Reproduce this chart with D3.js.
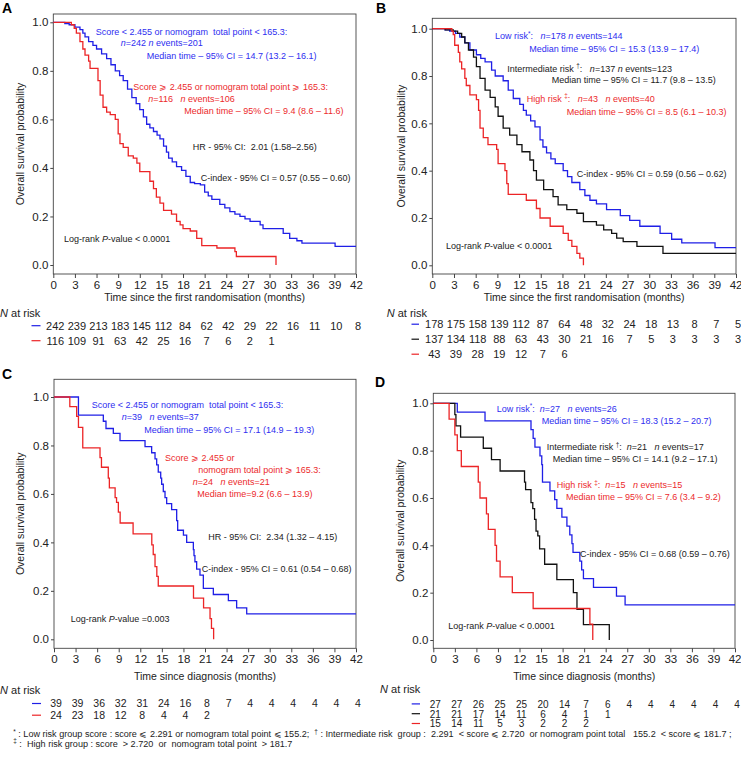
<!DOCTYPE html>
<meta charset="utf-8">
<head>
    <title>Overall survival by score / nomogram risk group</title>
    <script type="text/javascript" src="https://cdn.jsdelivr.net/npm/d3@7/dist/d3.min.js"></script>
    <style>
        body { margin: 0; background: #fff; }
        svg text { font-family: "Liberation Sans", Arial, sans-serif; white-space: pre; }
    </style>
</head>
<body>
<script>

// shared tick labels
var monthTicks = [0, 3, 6, 9, 12, 15, 18, 21, 24, 27, 30, 33, 36, 39, 42];
var survTicks = [0.0, 0.2, 0.4, 0.6, 0.8, 1.0];

// Panel A - KM steps [month, survival]
var kmA_low = [[0,1],[1.6,0.995],[2.2,0.99],[3.0,0.98],[3.7,0.97],[4.1,0.955],[4.4,0.94],[4.9,0.92],[5.5,0.905],[6.0,0.89],
    [6.7,0.87],[7.4,0.85],[8.0,0.825],[8.6,0.80],[9.2,0.78],[9.7,0.76],[10.3,0.725],[10.9,0.69],[11.5,0.665],[12.0,0.64],
    [12.5,0.61],[12.95,0.58],[13.4,0.565],[13.9,0.55],[14.4,0.535],[14.8,0.52],[15.3,0.49],[15.7,0.465],[16.0,0.44],[16.5,0.425],
    [17.1,0.405],[17.8,0.39],[18.4,0.365],[19.0,0.34],[19.6,0.335],[20.4,0.33],[21.0,0.30],[21.5,0.285],[22.0,0.27],[23.1,0.25],
    [23.8,0.235],[24.5,0.22],[25.2,0.21],[25.9,0.20],[26.6,0.19],[27.3,0.18],[28.7,0.165],[29.1,0.15],[31.9,0.13],[32.8,0.11],
    [33.8,0.10],[34.5,0.09],[39.1,0.077]];
var kmA_high = [[0,1],[2.5,0.99],[2.9,0.975],[3.2,0.955],[3.7,0.92],[4.1,0.89],[4.4,0.865],[4.9,0.84],[5.1,0.81],[6.2,0.76],
    [6.5,0.70],[6.9,0.65],[7.4,0.63],[7.9,0.62],[8.6,0.60],[9.0,0.54],[9.25,0.50],[9.7,0.485],[10.4,0.45],[11.1,0.44],
    [11.6,0.42],[12.0,0.385],[13.4,0.345],[13.9,0.315],[14.3,0.28],[14.8,0.255],[15.3,0.225],[16.4,0.21],[17.1,0.18],[17.6,0.165],
    [18.0,0.15],[19.0,0.14],[19.9,0.11],[20.6,0.08],[22.7,0.07],[25.2,0.055],[25.4,0.035],[30.9,0]];
var riskA_low = [242, 239, 213, 183, 145, 112, 84, 62, 42, 29, 22, 16, 11, 10, 8];
var riskA_high = [116, 109, 91, 63, 42, 25, 16, 7, 6, 2, 1];

// Panel B
var kmB_low = [[0,1],[1.75,0.995],[2.4,0.99],[3.2,0.98],[3.8,0.965],[4.5,0.94],[5.2,0.91],[6.1,0.89],[6.7,0.875],[7.3,0.86],
    [8.2,0.825],[8.7,0.80],[9.8,0.78],[10.5,0.74],[11.2,0.705],[12.1,0.68],[12.6,0.655],[13.0,0.635],[13.6,0.61],[14.2,0.585],
    [14.9,0.53],[15.3,0.50],[15.8,0.475],[16.4,0.45],[17.0,0.43],[18.1,0.40],[18.7,0.375],[19.3,0.35],[20.4,0.32],[21.1,0.295],
    [21.8,0.275],[22.7,0.26],[24.1,0.235],[26.0,0.21],[27.3,0.19],[28.7,0.165],[31.5,0.135],[33.1,0.11],[34.5,0.095],[39.1,0.075]];
var kmB_int = [[0,1],[1.8,0.995],[2.9,0.99],[3.5,0.98],[4.06,0.965],[4.5,0.94],[5.0,0.91],[5.7,0.88],[6.1,0.84],[6.6,0.79],
    [7.3,0.74],[8.0,0.71],[8.7,0.67],[9.1,0.63],[9.8,0.58],[10.7,0.55],[11.7,0.51],[12.4,0.48],[13.5,0.445],[14.0,0.40],
    [14.4,0.36],[15.4,0.32],[16.7,0.29],[17.4,0.255],[18.6,0.235],[20.0,0.22],[20.9,0.185],[22.7,0.17],[23.7,0.15],[24.8,0.135],
    [25.5,0.115],[26.4,0.10],[28.3,0.08],[31.9,0.05]];
var kmB_high = [[0,1],[2.7,0.99],[2.9,0.975],[3.1,0.93],[3.6,0.90],[3.8,0.86],[4.06,0.83],[4.5,0.79],[4.7,0.76],[5.2,0.72],
    [6.1,0.70],[6.4,0.655],[6.6,0.58],[7.05,0.54],[7.7,0.51],[8.9,0.49],[9.1,0.43],[10.05,0.40],[10.3,0.345],[10.5,0.30],
    [13.0,0.275],[14.4,0.24],[14.9,0.20],[16.3,0.165],[18.1,0.135],[18.8,0.105],[19.3,0.08],[20.0,0.05],[20.4,0.03],[20.9,0]];
var riskB_low = [178, 175, 158, 139, 112, 87, 64, 48, 32, 24, 18, 13, 8, 7, 5];
var riskB_int = [137, 134, 118, 88, 63, 43, 30, 21, 16, 7, 5, 3, 3, 3, 3];
var riskB_high = [43, 39, 28, 19, 12, 7, 6];

// Panel C
var kmC_low = [[0,1],[3.4,0.925],[6.86,0.90],[7.23,0.87],[8.25,0.85],[9.18,0.82],[12.66,0.795],[13.58,0.77],[14.05,0.745],
    [14.28,0.72],[14.5,0.69],[14.84,0.665],[14.97,0.64],[15.2,0.61],[15.44,0.585],[15.67,0.56],[16.36,0.535],[17.06,0.49],
    [17.2,0.45],[18.0,0.43],[18.45,0.40],[19.38,0.37],[19.47,0.345],[19.6,0.32],[19.84,0.29],[20.3,0.265],[20.77,0.21],
    [22.16,0.185],[24.25,0.16],[25.4,0.13],[26.8,0.105]];
var kmC_high = [[0,1],[2.2,0.96],[3.15,0.92],[3.4,0.875],[4.0,0.79],[6.4,0.75],[6.6,0.71],[7.55,0.665],[7.7,0.625],[8.5,0.585],
    [8.7,0.565],[8.95,0.525],[9.2,0.48],[11.0,0.435],[13.6,0.39],[13.8,0.35],[14.05,0.30],[14.3,0.26],[14.5,0.22],[19.4,0.17],
    [20.8,0.13],[21.7,0.085],[21.9,0.045],[22.2,0]];
var riskC_low = [39, 39, 36, 32, 31, 24, 16, 8, 7, 4, 4, 4, 4, 4, 4];
var riskC_high = [24, 23, 18, 12, 8, 4, 4, 2];

// Panel D
var kmD_low = [[0,1],[3.34,0.963],[7.2,0.926],[13.6,0.889],[13.9,0.852],[14.15,0.815],[14.85,0.778],[15.1,0.741],[15.2,0.667],
    [16.24,0.63],[16.9,0.593],[17.2,0.556],[17.9,0.519],[18.6,0.481],[19.0,0.444],[19.3,0.407],[19.45,0.37],[20.4,0.333],
    [20.65,0.296],[20.9,0.259],[22.3,0.222],[25.5,0.185],[26.7,0.148]];
var kmD_int = [[0,1],[3.0,0.952],[3.15,0.905],[3.8,0.857],[6.96,0.81],[8.1,0.762],[9.3,0.714],[12.7,0.667],[12.85,0.635],
    [13.6,0.58],[13.85,0.555],[14.1,0.51],[14.3,0.46],[14.55,0.44],[14.8,0.385],[15.5,0.32],[17.2,0.255],[19.5,0.20],
    [20.0,0.13],[20.9,0.065],[24.5,0]];
var kmD_high = [[0,1],[2.2,0.933],[3.0,0.867],[3.34,0.80],[3.9,0.733],[6.26,0.667],[6.5,0.60],[7.4,0.533],[7.66,0.467],
    [8.6,0.40],[8.8,0.333],[9.3,0.267],[11.0,0.20],[13.9,0.133],[21.8,0.067],[22.2,0]];
var riskD_low = [27, 27, 26, 25, 25, 20, 14, 7, 6, 4, 4, 4, 4, 4, 4];
var riskD_int = [21, 21, 17, 14, 11, 6, 4, 1, 1];
var riskD_high = [15, 14, 11, 5, 3, 2, 2, 2];

var colors = {blue: "#1f1fe6", black: "#111111", red: "#ec2426"};
var textColors = {blue: "#2e2ef0", black: "#222222", red: "#ec2a2c"};

var width = 741, height = 757;

var svg = d3.select("body")
    .append("svg")
    .attr("width", width)
    .attr("height", height);

// text with _italic_ and ^superscript^ parts
function richText(sel, str) {
    var shift = 0;
    str.split(/(_[^_]+_|\^[^\^]+\^)/).forEach(function(part) {
        if (!part) return;
        var t = sel.append("tspan");
        if (part[0] == "_") {
            t.style("font-style", "italic").text(part.slice(1, -1));
            if (shift) { t.attr("dy", -shift); shift = 0; }
        } else if (part[0] == "^") {
            t.attr("dy", -3.5 - shift).style("font-size", "0.7em").text(part.slice(1, -1));
            shift = -3.5;
        } else {
            t.text(part);
            if (shift) { t.attr("dy", -shift); shift = 0; }
        }
    });
}

var panels = [
    {label: "A", lx: 2, ly: 13, left: 53.3, right: 356, top: 14, bottom: 274, y1: 22.3, y0: 265,
     xTitle: "Time since the first randomisation (months)", xTitleY: 301, yTitleX: 24,
     curves: [[kmA_low, "blue"], [kmA_high, "red"]],
     risk: [[riskA_low, "blue"], [riskA_high, "red"]], riskHead: [0, 316.5], riskY: [329.5, 344.5], riskFont: 11, dash: [31.5, 40.5],
     notes: [
        ["blue", 95.7, 35, "Score < 2.455 or nomogram  total point < 165.3:"],
        ["blue", 120.7, 45.7, "_n_=242 _n_ events=201"],
        ["blue", 146.7, 59, "Median time – 95% CI = 14.7 (13.2 – 16.1)"],
        ["red", 133.3, 90, "Score ⩾ 2.455 or nomogram total point ⩾ 165.3:"],
        ["red", 148.3, 101.5, "_n_=116   _n_ events=106"],
        ["red", 184.3, 113.5, "Median time – 95% CI = 9.4 (8.6 – 11.6)"],
        ["black", 192.7, 150, "HR - 95% CI:  2.01 (1.58–2.56)"],
        ["black", 200.7, 180.7, "C-index - 95% CI = 0.57 (0.55 – 0.60)"],
        ["black", 64, 242.3, "Log-rank _P_-value < 0.0001"]
     ]},
    {label: "B", lx: 376, ly: 13, left: 432.3, right: 736, top: 18.3, bottom: 274, y1: 28.7, y0: 265.3,
     xTitle: "Time since the first randomisation (months)", xTitleY: 301, yTitleX: 405,
     curves: [[kmB_low, "blue"], [kmB_int, "black"], [kmB_high, "red"]],
     risk: [[riskB_low, "blue"], [riskB_int, "black"], [riskB_high, "red"]], riskHead: [386.7, 316.5], riskY: [328, 343, 358], riskFont: 11, dash: [411.5, 419],
     notes: [
        ["blue", 495, 39.3, "Low risk^*^:   _n_=178 _n_ events=144"],
        ["blue", 529.3, 52.3, "Median time – 95% CI = 15.3 (13.9 – 17.4)"],
        ["black", 507.3, 71.7, "Intermediate risk ^†^:   _n_=137 _n_ events=123"],
        ["black", 551.7, 83.3, "Median time – 95% CI = 11.7 (9.8 – 13.5)"],
        ["red", 526.7, 101.7, "High risk ^‡^:   _n_=43   _n_ events=40"],
        ["red", 566.7, 115, "Median time – 95% CI = 8.5 (6.1 – 10.3)"],
        ["black", 576.7, 176.7, "C-index - 95% CI = 0.59 (0.56 – 0.62)"],
        ["black", 446, 249.3, "Log-rank _P_-value < 0.0001"]
     ]},
    {label: "C", lx: 2, ly: 378.5, left: 54, right: 356, top: 379.3, bottom: 648.3, y1: 397, y0: 639.3,
     xTitle: "Time since diagnosis (months)", xTitleY: 680, yTitleX: 24,
     curves: [[kmC_low, "blue"], [kmC_high, "red"]],
     risk: [[riskC_low, "blue"], [riskC_high, "red"]], riskHead: [0, 693.5], riskY: [707.3, 719], riskFont: 10.5, dash: [32, 41],
     notes: [
        ["blue", 91.7, 408.3, "Score < 2.455 or nomogram  total point < 165.3:"],
        ["blue", 121.7, 420, "_n_=39   _n_ events=37"],
        ["blue", 144.3, 432.7, "Median time – 95% CI = 17.1 (14.9 – 19.3)"],
        ["red", 165, 461, "Score ⩾ 2.455 or"],
        ["red", 198.3, 473.3, "nomogram total point ⩾ 165.3:"],
        ["red", 192.7, 485, "_n_=24   _n_ events=21"],
        ["red", 197.3, 497.3, "Median time=9.2 (6.6 – 13.9)"],
        ["black", 208.3, 540, "HR - 95% CI:  2.34 (1.32 – 4.15)"],
        ["black", 201.7, 571.7, "C-index - 95% CI = 0.61 (0.54 – 0.68)"],
        ["black", 70.7, 621.7, "Log-rank _P_-value =0.003"]
     ]},
    {label: "D", lx: 375, ly: 386.5, left: 433.3, right: 735, top: 393.3, bottom: 648.3, y1: 403.3, y0: 640,
     xTitle: "Time since diagnosis (months)", xTitleY: 680, yTitleX: 404,
     curves: [[kmD_low, "blue"], [kmD_int, "black"], [kmD_high, "red"]],
     risk: [[riskD_low, "blue"], [riskD_int, "black"], [riskD_high, "red"]], riskHead: [380, 693.3], riskY: [707.7, 717.5, 727.3], riskFont: 10, dash: [411.7, 420],
     notes: [
        ["blue", 496.7, 411.7, "Low risk^*^:  _n_=27   _n_ events=26"],
        ["blue", 541.7, 424, "Median time – 95% CI = 18.3 (15.2 – 20.7)"],
        ["black", 546.7, 450, "Intermediate risk ^†^:  _n_=21   _n_ events=17"],
        ["black", 552.7, 461.7, "Median time – 95% CI = 14.1 (9.2 – 17.1)"],
        ["red", 556.7, 488.3, "High risk ^‡^:  _n_=15   _n_ events=15"],
        ["red", 566, 500, "Median time – 95% CI = 7.6 (3.4 – 9.2)"],
        ["black", 580, 557.3, "C-index - 95% CI = 0.68 (0.59 – 0.76)"],
        ["black", 448.3, 629.3, "Log-rank _P_-value < 0.0001"]
     ]}
];

panels.forEach(drawPanel);

function drawPanel(p) {
    var x = d3.scaleLinear().domain([0, 42]).range([p.left, p.right]);
    var y = d3.scaleLinear().domain([0, 1]).range([p.y0, p.y1]);
    var g = svg.append("g");

    // panel letter
    g.append("text").attr("x", p.lx).attr("y", p.ly)
        .style("font-size", "14px").style("font-weight", "bold").text(p.label);

    // plot frame
    g.append("rect")
        .attr("x", p.left).attr("y", p.top)
        .attr("width", p.right - p.left).attr("height", p.bottom - p.top)
        .attr("fill", "none").attr("stroke", "#444").attr("stroke-width", 0.9);

    // axes
    var xAxis = g.append("g")
        .attr("transform", "translate(0," + p.bottom + ")")
        .call(d3.axisBottom(x).tickValues(monthTicks).tickSize(4).tickPadding(3).tickFormat(d3.format("d")));
    var yAxis = g.append("g")
        .attr("transform", "translate(" + p.left + ",0)")
        .call(d3.axisLeft(y).tickValues(survTicks).tickSize(3).tickPadding(2).tickFormat(d3.format(".1f")));
    [xAxis, yAxis].forEach(function(a) {
        a.select(".domain").remove();
        a.selectAll("line").attr("stroke", "#444");
        a.selectAll("text").style("font-size", "11.5px").style("font-family", "Liberation Sans, Arial, sans-serif").attr("fill", "#222");
    });
    // keep the last month label inside the page
    xAxis.selectAll(".tick text").filter(function(d) { return x(d) + 7 > width; })
        .attr("text-anchor", "end").attr("dx", 6);

    g.append("text")
        .attr("x", (p.left + p.right) / 2).attr("y", p.xTitleY)
        .attr("text-anchor", "middle").style("font-size", "10.5px").attr("fill", "#222")
        .text(p.xTitle);
    g.append("text")
        .attr("transform", "translate(" + p.yTitleX + "," + ((p.top + p.bottom) / 2) + ") rotate(-90)")
        .attr("text-anchor", "middle").style("font-size", "10.5px").attr("fill", "#222")
        .text("Overall survival probability");

    // survival curves
    var line = d3.line()
        .x(function(d) { return x(d[0]); })
        .y(function(d) { return y(d[1]); })
        .curve(d3.curveStepAfter);
    p.curves.forEach(function(c) {
        var pts = c[0].slice();
        var last = pts[pts.length - 1];
        if (last[1] > 0) pts.push([42, last[1]]);
        g.append("path")
            .attr("d", line(pts))
            .attr("fill", "none")
            .attr("stroke", colors[c[1]])
            .attr("stroke-width", 1.3);
    });

    // annotations
    p.notes.forEach(function(n) {
        var t = g.append("text")
            .attr("x", n[1]).attr("y", n[2])
            .attr("fill", textColors[n[0]])
            .style("font-size", "9px");
        richText(t, n[3]);
    });

    // number at risk table
    var head = g.append("text").attr("x", p.riskHead[0]).attr("y", p.riskHead[1])
        .style("font-size", "11px").attr("fill", "#222");
    richText(head, "_N_ at risk");

    p.risk.forEach(function(r, i) {
        var ry = p.riskY[i];
        g.append("line")
            .attr("x1", p.dash[0]).attr("x2", p.dash[1])
            .attr("y1", ry - 3.8).attr("y2", ry - 3.8)
            .attr("stroke", colors[r[1]]).attr("stroke-width", 1.2);
        g.selectAll(null)
            .data(r[0])
            .enter().append("text")
            .attr("x", function(d, j) { return x(monthTicks[j]) + 2; })
            .attr("y", ry)
            .attr("text-anchor", "middle")
            .style("font-size", p.riskFont + "px")
            .attr("fill", "#222")
            .text(function(d) { return d; });
    });
}

// footnotes: first line scaled to the original line length, second line uses the same size
var footnotes = [
    [13.3, 737.3, "^*^ : Low risk group score : score ⩽ 2.291 or nomogram total point ⩽ 155.2;  ^†^ : Intermediate risk  group :  2.291  < score ⩽ 2.720  or nomogram point total   155.2  < score ⩽ 181.7 ;"],
    [13.3, 746.8, "^‡^ :  High risk group : score  > 2.720  or  nomogram total point  > 181.7"]
];
var noteSize = 7;
footnotes.forEach(function(f, i) {
    var t = svg.append("text").attr("x", f[0]).attr("y", f[1])
        .style("font-size", noteSize + "px").attr("fill", "#222");
    richText(t, f[2]);
    if (i == 0) {
        noteSize = 7 * 718 / t.node().getComputedTextLength();
        t.style("font-size", noteSize + "px");
    }
});

</script>
</body>
</html>
